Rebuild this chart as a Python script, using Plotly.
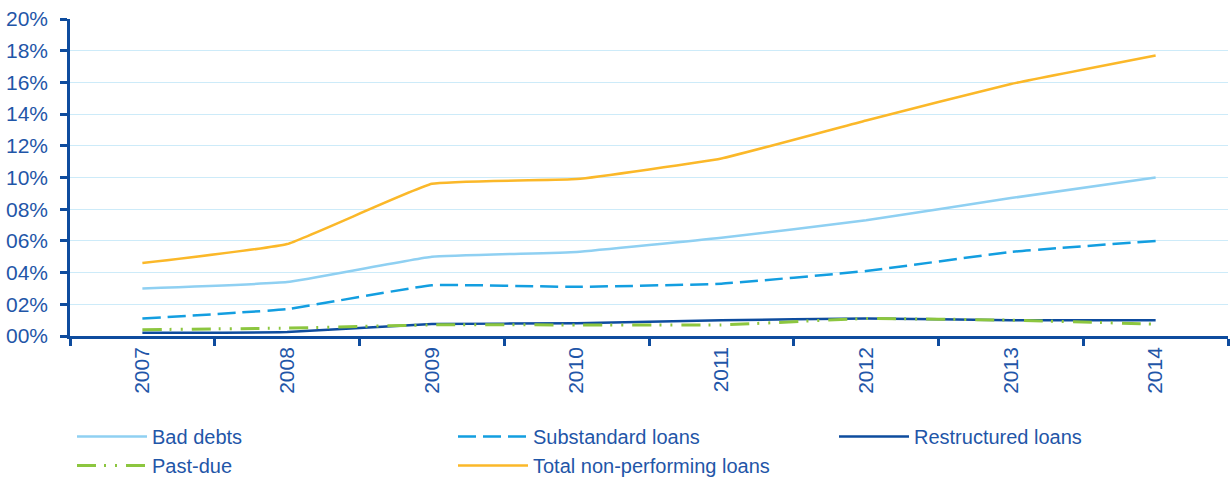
import plotly.graph_objects as go

years = ["2007", "2008", "2009", "2010", "2011", "2012", "2013", "2014"]
bad_debts = [3.0, 3.4, 5.0, 5.3, 6.2, 7.3, 8.7, 10.0]
substandard = [1.1, 1.7, 3.2, 3.1, 3.3, 4.1, 5.3, 6.0]
restructured = [0.2, 0.25, 0.75, 0.8, 1.0, 1.1, 1.0, 1.0]
past_due = [0.4, 0.5, 0.7, 0.7, 0.7, 1.1, 1.0, 0.75]
total_npl = [4.6, 5.8, 9.6, 9.9, 11.2, 13.6, 15.9, 17.7]

y_ticks = [0, 2, 4, 6, 8, 10, 12, 14, 16, 18, 20]
y_tick_labels = ["00%", "02%", "04%", "06%", "08%", "10%", "12%", "14%", "16%", "18%", "20%"]

TEXT = "#1F56A8"
AXIS = "#0E4C9E"
FONT = "Liberation Sans, Arial, sans-serif"

series = [
    ("Bad debts", bad_debts, dict(color="#8FD0F2", width=2.5, dash="solid")),
    ("Substandard loans", substandard, dict(color="#139EE0", width=2.5, dash="18px,7px")),
    ("Restructured loans", restructured, dict(color="#0E4C9E", width=2.5, dash="solid")),
    ("Past-due", past_due, dict(color="#8CC63F", width=3, dash="19px,8px,2px,9px,2px,9px")),
    ("Total non-performing loans", total_npl, dict(color="#FBB829", width=2.5, dash="solid")),
]

fig = go.Figure()
for name, vals, line in series:
    fig.add_trace(go.Scatter(
        x=years, y=vals, name=name, mode="lines",
        line=dict(shape="spline", smoothing=0.3, **line),
    ))

fig.update_layout(
    width=1230, height=479,
    margin=dict(l=70, r=2, t=19, b=143, autoexpand=False),
    paper_bgcolor="white", plot_bgcolor="white",
    font=dict(family=FONT, size=21, color=TEXT),
    showlegend=True,
    legend=dict(
        orientation="h", xref="container", yref="container",
        x=72 / 1230, xanchor="left", y=1 - 417 / 479, yanchor="top",
        entrywidth=296, entrywidthmode="pixels",
        itemwidth=70, font=dict(size=20, color=TEXT),
        traceorder="normal", bgcolor="rgba(0,0,0,0)",
    ),
)

fig.update_xaxes(
    type="category", tickangle=-90, tickson="boundaries",
    ticks="outside", ticklen=7, tickwidth=2.5, tickcolor=AXIS,
    showline=True, linecolor=AXIS, linewidth=2.5,
    showgrid=False, tickfont=dict(size=21, color=TEXT),
    range=[-0.5, 7.5], automargin=False,
)
fig.update_yaxes(
    range=[0, 20], tickvals=y_ticks, ticktext=y_tick_labels,
    ticks="outside", ticklen=7, tickwidth=2.5, tickcolor=AXIS,
    showline=True, linecolor=AXIS, linewidth=2.5,
    showgrid=True, gridcolor="#CDEBF9", gridwidth=1.2,
    zeroline=False, tickfont=dict(size=21, color=TEXT),
    ticklabelstandoff=8, automargin=False,
)

fig.write_html("out.html")
